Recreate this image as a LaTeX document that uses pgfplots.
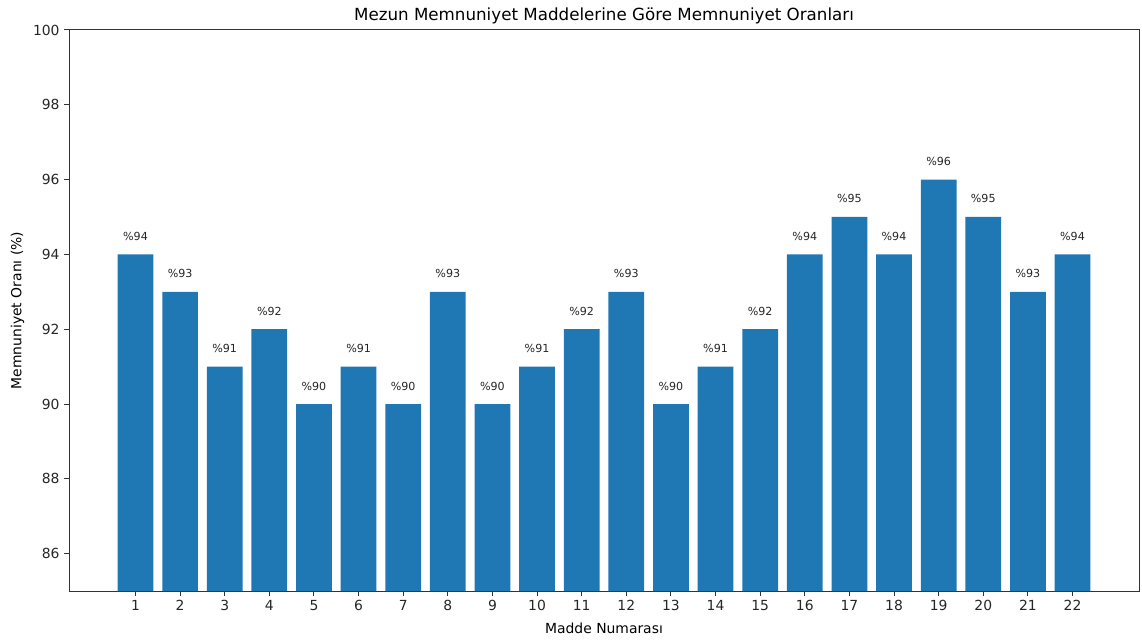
\documentclass[border=0pt]{standalone}
\usepackage{pgfplots}
\pgfplotsset{compat=1.18}
\usepackage{fontspec}
\setmainfont{DejaVu Sans}
\definecolor{mplblue}{HTML}{1F77B4}
\begin{document}
\begin{tikzpicture}
\begin{axis}[
  name=ax,
  scale only axis,
  width=1070pt, height=561pt,
  xmin=-0.49, xmax=23.49,
  ymin=85, ymax=100,
  xtick={1,...,22},
  ytick={86,88,...,100},
  tick align=outside,
  xtick pos=bottom, ytick pos=left,
  major tick length=4.9pt,
  /pgf/number format/assume math mode=true,
  tick label style={font=\fontsize{13.9}{16}\selectfont, color=black!85},
  every tick/.style={black!80, line width=1pt},
  axis line style={black!80, line width=1pt},
  xticklabel style={yshift=-1pt},
  yticklabel style={xshift=-1pt},
  title={Mezun Memnuniyet Maddelerine Göre Memnuniyet Oranları},
  title style={font=\fontsize{16.7}{20}\selectfont, yshift=-3.5pt},
  xlabel={Madde Numarası},
  ylabel={Memnuniyet Oranı (\%)},
  label style={font=\fontsize{13.9}{16}\selectfont},
  xlabel style={yshift=-5pt},
  ylabel style={yshift=2pt},
  ybar, bar width=0.8,
  nodes near coords={\%\pgfmathprintnumber{\pgfplotspointmeta}},
  every node near coord/.append style={font=\fontsize{11.1}{13}\selectfont, anchor=base, yshift=14pt, inner sep=0pt, color=black!85},
]
\addplot[fill=mplblue, draw=none] coordinates {
(1,94) (2,93) (3,91) (4,92) (5,90) (6,91) (7,90) (8,93) (9,90) (10,91) (11,92)
(12,93) (13,90) (14,91) (15,92) (16,94) (17,95) (18,94) (19,96) (20,95) (21,93) (22,94)
};
\end{axis}
\path ([shift={(-69pt,-51pt)}]ax.south west) rectangle ([shift={(3pt,30pt)}]ax.north east);
\end{tikzpicture}
\end{document}
